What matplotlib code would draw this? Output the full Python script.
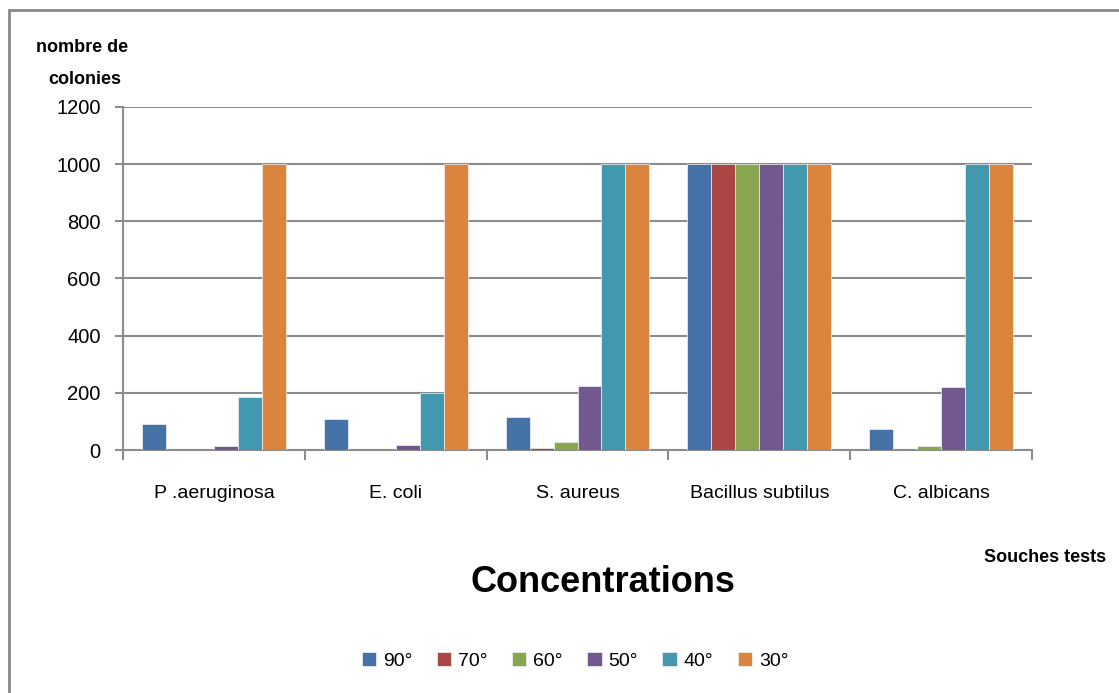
import matplotlib
matplotlib.use("Agg")
import matplotlib.pyplot as plt
from matplotlib.patches import Rectangle
import numpy as np

plt.rcParams['font.family'] = ['Liberation Sans', 'DejaVu Sans']

strains = ["P .aeruginosa", "E. coli", "S. aureus", "Bacillus subtilus", "C. albicans"]
series_labels = ["90°", "70°", "60°", "50°", "40°", "30°"]
colors = ["#4572A7", "#AA4643", "#89A54E", "#71588F", "#4198AF", "#DB843D"]

v90 = [90, 108, 115, 1000, 72]
v70 = [0, 0, 8, 1000, 0]
v60 = [0, 0, 28, 1000, 13]
v50 = [13, 16, 224, 1000, 219]
v40 = [185, 200, 1000, 1000, 1000]
v30 = [1000, 1000, 1000, 1000, 1000]
series = [v90, v70, v60, v50, v40, v30]

W, H = 1119, 693
fig = plt.figure(figsize=(W / 100, H / 100), dpi=100)
ax = fig.add_axes([123 / W, 1 - 450 / H, 909 / W, 343 / H])

# outer chart frame (left and top edges visible)
fig.patches.append(Rectangle((9 / W, -0.1), 1.2, 1 - 10 / H + 0.1,
                             transform=fig.transFigure, fill=False,
                             edgecolor="#888888", linewidth=2))

n = len(series)
bar_w = 0.132
x = np.arange(len(strains))
for i, (vals, col, lab) in enumerate(zip(series, colors, series_labels)):
    offs = (i - (n - 1) / 2) * bar_w
    ax.bar(x + offs, vals, width=bar_w, color=col, label=lab,
           edgecolor="#f4f4f4", linewidth=0.5, zorder=3)

ax.set_xlim(-0.5, len(strains) - 0.5)
ax.set_ylim(0, 1200)
ax.set_yticks(np.arange(0, 1201, 200))
ax.yaxis.grid(True, color="#8c8c8c", linewidth=1.5, zorder=0)
ax.set_axisbelow(True)

ax.set_xticks(x)
ax.set_xticklabels(strains, fontsize=14)
ax.set_xticks(np.arange(-0.5, len(strains), 1), minor=True)
ax.tick_params(axis="x", which="major", length=0, pad=25)
ax.tick_params(axis="x", which="minor", length=7, width=1.5, color="#8c8c8c", direction="out")
ax.tick_params(axis="y", length=6, width=1.5, color="#8c8c8c", labelsize=14.5, pad=10)

for s in ["top", "right"]:
    ax.spines[s].set_visible(False)
for s in ["left", "bottom"]:
    ax.spines[s].set_color("#8c8c8c")
    ax.spines[s].set_linewidth(1.5)

fig.text(36 / W, 1 - 47 / H, "nombre de", fontsize=13, fontweight="bold", va="center", ha="left")
fig.text(48 / W, 1 - 80 / H, "colonies", fontsize=13, fontweight="bold", va="center", ha="left")
fig.text(1106 / W, 1 - 558 / H, "Souches tests", fontsize=13, fontweight="bold", va="center", ha="right")
fig.text(603 / W, 1 - 582 / H, "Concentrations", fontsize=26, fontweight="bold", va="center", ha="center")

fig.legend(loc="center", bbox_to_anchor=(575 / W, 1 - 661 / H), ncol=6, frameon=False,
           fontsize=14, handlelength=0.75, handleheight=0.75, handletextpad=0.35, columnspacing=1.25)

fig.savefig("out.png", dpi=100)
